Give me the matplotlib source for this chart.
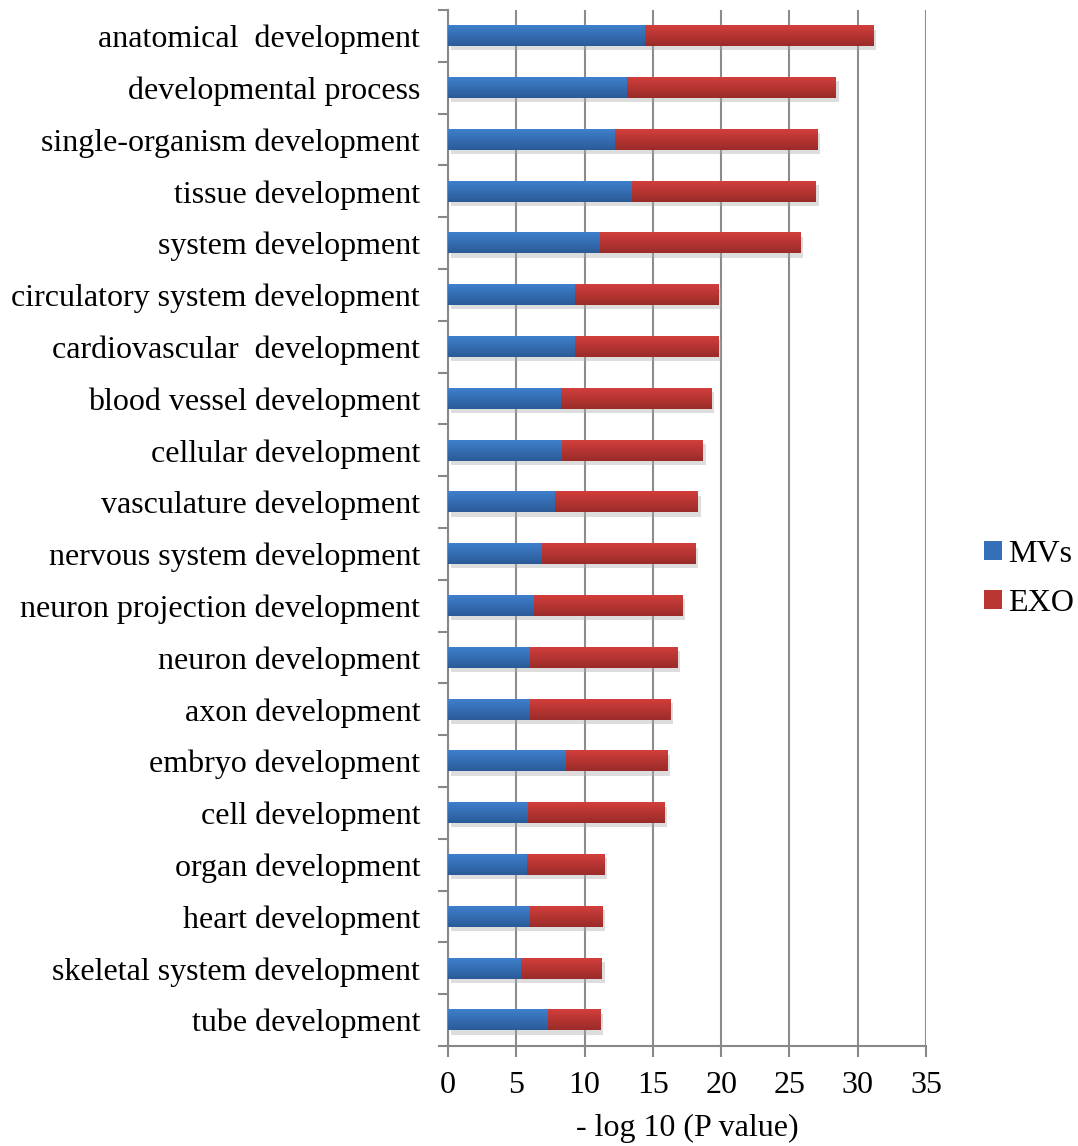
import matplotlib
matplotlib.use("Agg")
import matplotlib.pyplot as plt
import matplotlib.patheffects as pe
import numpy as np

plt.rcParams['font.family'] = ['Liberation Serif', 'DejaVu Serif']

categories = ['anatomical  development', 'developmental process',
              'single-organism development', 'tissue development',
              'system development', 'circulatory system development',
              'cardiovascular  development', 'blood vessel development',
              'cellular development', 'vasculature development',
              'nervous system development', 'neuron projection development',
              'neuron development', 'axon development', 'embryo development',
              'cell development', 'organ development', 'heart development',
              'skeletal system development', 'tube development']

# -log10(P) for each GO term
mvs = [14.42, 13.13, 12.2, 13.5, 11.1, 9.32, 9.32, 8.27, 8.37, 7.83,
       6.88, 6.3, 5.98, 5.98, 8.64, 5.86, 5.76, 6.0, 5.37, 7.32]
exo = [16.72, 15.3, 14.82, 13.45, 14.7, 10.48, 10.48, 11.01, 10.3, 10.47,
       11.23, 10.86, 10.81, 10.3, 7.42, 9.98, 5.69, 5.3, 5.93, 3.84]

xticks = [0, 5, 10, 15, 20, 25, 30, 35]

blue_top, blue_bot = '#3f7fcc', '#2a5b98'
red_top, red_bot = '#d13f3c', '#9a2b29'
FS = 23


def gradient_fill(ax, bars, top, bot):
    c1 = np.array(matplotlib.colors.to_rgb(top))
    c2 = np.array(matplotlib.colors.to_rgb(bot))
    t = np.linspace(0, 1, 32)[:, None]
    img = (c1 * (1 - t) + c2 * t)[:, None, :]
    for b in bars:
        x, y = b.get_x(), b.get_y()
        w, h = b.get_width(), b.get_height()
        ax.imshow(img, extent=[x, x + w, y + h, y], aspect='auto',
                  origin='upper', zorder=3, interpolation='bilinear')


fig = plt.figure(figsize=(10.78, 11.46), dpi=100)
ax = fig.add_axes([0.4156, 0.0873, 0.4434, 0.904])

y = np.arange(len(categories))
h = 0.4
shadow = [pe.SimplePatchShadow(offset=(2, -3), shadow_rgbFace='#aaaaaa', alpha=0.4), pe.Normal()]

b1 = ax.barh(y, mvs, height=h, color='none', zorder=2, label='MVs')
b2 = ax.barh(y, exo, left=mvs, height=h, color='none', zorder=2, label='EXO')
for b in list(b1) + list(b2):
    b.set_path_effects(shadow)
gradient_fill(ax, b1, blue_top, blue_bot)
gradient_fill(ax, b2, red_top, red_bot)

ax.set_xlim(0, 35)
ax.set_ylim(len(categories) - 0.5, -0.5)
ax.set_xticks(xticks)
ax.set_xticklabels([str(v) for v in xticks], fontsize=FS)
ax.set_yticks(y)
ax.set_yticklabels(categories, fontsize=FS)
ax.set_yticks(np.arange(len(categories) + 1) - 0.5, minor=True)
ax.tick_params(axis='y', which='major', length=0, pad=20)
ax.tick_params(axis='y', which='minor', length=7, width=1.5, color='#888888')
ax.tick_params(axis='x', length=8, width=1.5, color='#888888', pad=10)

ax.grid(axis='x', color='#8c8c8c', linewidth=1.5, zorder=0)
ax.set_axisbelow(True)
for s in ['top', 'right']:
    ax.spines[s].set_visible(False)
for s in ['left', 'bottom']:
    ax.spines[s].set_color('#888888')
    ax.spines[s].set_linewidth(1.5)

ax.set_xlabel('- log 10 (P value)', fontsize=FS, labelpad=10)

handles = [plt.Rectangle((0, 0), 1, 1, facecolor='#3470b8'),
           plt.Rectangle((0, 0), 1, 1, facecolor='#b93633')]
fig.legend(handles, ['MVs', 'EXO'], loc='center left',
           bbox_to_anchor=(0.913, 0.4948), frameon=False, fontsize=FS,
           handlelength=0.55, handleheight=0.55, handletextpad=0.2,
           labelspacing=0.63, borderpad=0, borderaxespad=0)

fig.savefig('out.png', dpi=100)
